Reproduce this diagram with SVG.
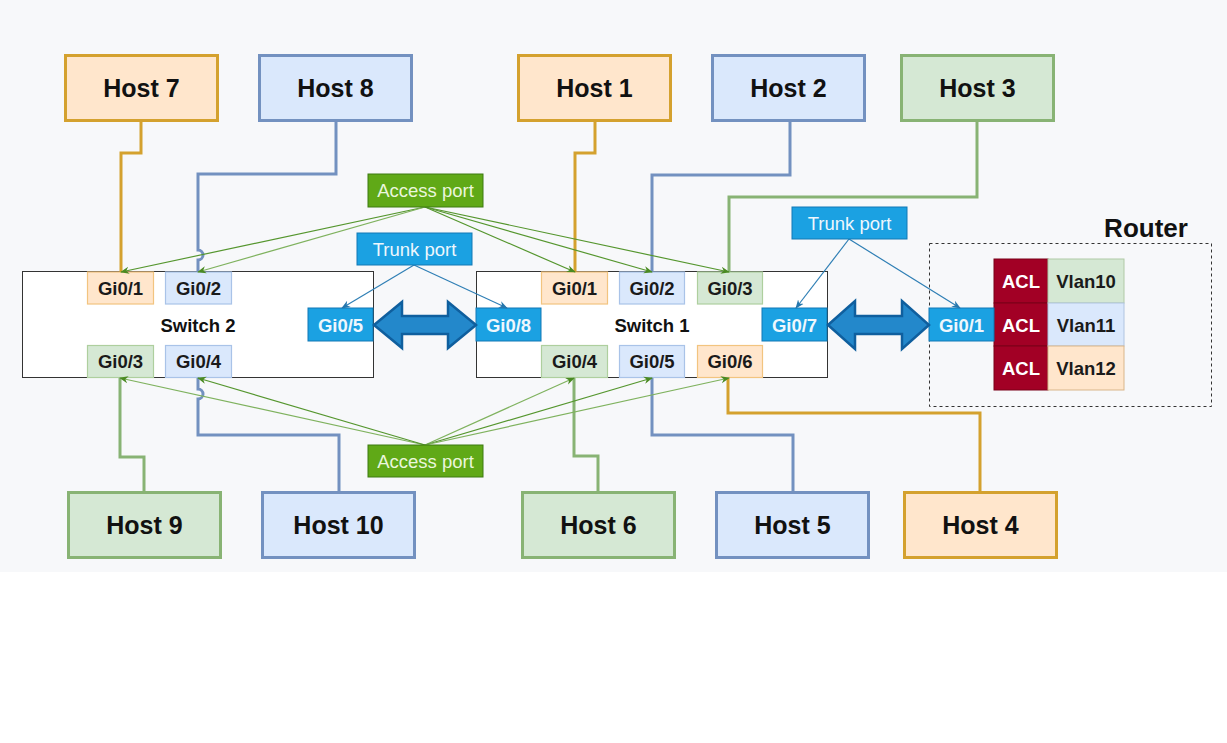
<svg xmlns="http://www.w3.org/2000/svg" width="1227" height="743" viewBox="0 0 1227 743">
  <style>
    text { font-family: "Liberation Sans", Arial, sans-serif; text-anchor: middle; dominant-baseline: central; }
    .host-o { fill: #ffe6cc; stroke: #d4a12e; stroke-width: 3; }
    .host-b { fill: #dae8fc; stroke: #7391c0; stroke-width: 3; }
    .host-g { fill: #d5e8d4; stroke: #88b374; stroke-width: 3; }
    .host-t { font-size: 25px; font-weight: bold; fill: #111; }
    .sw { fill: #ffffff; stroke: #333333; stroke-width: 1; }
    .sw-t { font-size: 18.5px; font-weight: bold; fill: #111; }
    .p-o { fill: #ffe6cc; stroke: #f2c47f; stroke-width: 1.2; }
    .p-b { fill: #dae8fc; stroke: #a9c3e8; stroke-width: 1.2; }
    .p-g { fill: #d5e8d4; stroke: #aecf9e; stroke-width: 1.2; }
    .p-t { font-size: 18.5px; font-weight: bold; fill: #1a1a1a; }
    .trk { fill: #1ba1e2; stroke: #1279b5; stroke-width: 1; }
    .trk-t { font-size: 18.5px; font-weight: bold; fill: #eef7fd; }
    .lbl-t { font-size: 18.5px; fill: #eaf6dc; }
    .lbl-tt { font-size: 18.5px; fill: #eef7fd; }
    .acc { fill: #60a917; stroke: #3d7a10; stroke-width: 1; }
    .acl { fill: #a20025; stroke: #7a0018; stroke-width: 1; }
    .acl-t { font-size: 18.5px; font-weight: bold; fill: #ffffff; }
    .w-o { fill: none; stroke: #d4a12e; stroke-width: 3; }
    .w-b { fill: none; stroke: #7391c0; stroke-width: 3; }
    .w-g { fill: none; stroke: #88b374; stroke-width: 3; }
    .a-g { fill: none; stroke: #55962e; stroke-width: 1.2; marker-end: url(#ah-g); }
    .a-b { fill: none; stroke: #2f7fb5; stroke-width: 1.2; marker-end: url(#ah-b); }
    .dbl { fill: #2388cb; stroke: #0f5f9e; stroke-width: 2.5; stroke-linejoin: miter; }
  </style>
  <defs>
    <marker id="ah-g" viewBox="0 0 10 10" refX="9" refY="5" markerWidth="9" markerHeight="9" markerUnits="userSpaceOnUse" orient="auto">
      <path d="M0,1 L10,5 L0,9 L3,5 Z" fill="#4a8a22"/>
    </marker>
    <marker id="ah-b" viewBox="0 0 10 10" refX="9" refY="5" markerWidth="9" markerHeight="9" markerUnits="userSpaceOnUse" orient="auto">
      <path d="M0,1 L10,5 L0,9 L3,5 Z" fill="#2677ad"/>
    </marker>
  </defs>

  <!-- canvas -->
  <rect x="0" y="0" width="1227" height="743" fill="#ffffff"/>
  <rect x="0" y="0" width="1227" height="572" fill="#f7f8fa"/>

  <!-- router frame -->
  <g id="router">
    <rect x="929.5" y="243.5" width="282" height="163" fill="none" stroke="#333" stroke-width="1" stroke-dasharray="3,3"/>
    <text x="1146" y="228" style="font-size:26px;font-weight:bold;fill:#111">Router</text>
    <rect class="acl" x="994" y="259" width="54" height="44"/>
    <rect class="acl" x="994" y="303" width="54" height="43"/>
    <rect class="acl" x="994" y="346" width="54" height="44"/>
    <text class="acl-t" x="1021" y="281">ACL</text>
    <text class="acl-t" x="1021" y="325">ACL</text>
    <text class="acl-t" x="1021" y="368">ACL</text>
    <rect x="1048" y="259" width="76" height="44" fill="#d5e8d4" stroke="#b0c9a6" stroke-width="1"/>
    <rect x="1048" y="303" width="76" height="43" fill="#dae8fc" stroke="#b0c4e0" stroke-width="1"/>
    <rect x="1048" y="346" width="76" height="44" fill="#ffe6cc" stroke="#d9b68a" stroke-width="1"/>
    <text class="p-t" x="1086" y="281">Vlan10</text>
    <text class="p-t" x="1086" y="325">Vlan11</text>
    <text class="p-t" x="1086" y="368">Vlan12</text>
    <rect class="trk" x="929" y="308" width="65" height="33"/>
    <text class="trk-t" x="961.5" y="325">Gi0/1</text>
  </g>

  <!-- switch 2 -->
  <g id="switch2">
    <rect class="sw" x="22.5" y="271.5" width="351" height="106"/>
    <text class="sw-t" x="198" y="325">Switch 2</text>
    <rect class="p-o" x="87.5" y="272" width="66" height="32"/>
    <text class="p-t" x="120.5" y="288">Gi0/1</text>
    <rect class="p-b" x="165.5" y="272" width="66" height="32"/>
    <text class="p-t" x="198.5" y="288">Gi0/2</text>
    <rect class="p-g" x="87.5" y="345.5" width="66" height="32"/>
    <text class="p-t" x="120.5" y="361.5">Gi0/3</text>
    <rect class="p-b" x="165.5" y="345.5" width="66" height="32"/>
    <text class="p-t" x="198.5" y="361.5">Gi0/4</text>
    <rect class="trk" x="308" y="308" width="65" height="33"/>
    <text class="trk-t" x="340.5" y="325">Gi0/5</text>
  </g>

  <!-- switch 1 -->
  <g id="switch1">
    <rect class="sw" x="476.5" y="271.5" width="351" height="106"/>
    <text class="sw-t" x="652" y="325">Switch 1</text>
    <rect class="p-o" x="541.5" y="272" width="66" height="32"/>
    <text class="p-t" x="574.5" y="288">Gi0/1</text>
    <rect class="p-b" x="619.5" y="272" width="65" height="32"/>
    <text class="p-t" x="652" y="288">Gi0/2</text>
    <rect class="p-g" x="697.5" y="272" width="65" height="32"/>
    <text class="p-t" x="730" y="288">Gi0/3</text>
    <rect class="p-g" x="541.5" y="345.5" width="66" height="32"/>
    <text class="p-t" x="574.5" y="361.5">Gi0/4</text>
    <rect class="p-b" x="619.5" y="345.5" width="65" height="32"/>
    <text class="p-t" x="652" y="361.5">Gi0/5</text>
    <rect class="p-o" x="697.5" y="345.5" width="65" height="32"/>
    <text class="p-t" x="730" y="361.5">Gi0/6</text>
    <rect class="trk" x="476" y="308" width="65" height="33"/>
    <text class="trk-t" x="508.5" y="325">Gi0/8</text>
    <rect class="trk" x="762" y="308" width="65" height="33"/>
    <text class="trk-t" x="794.5" y="325">Gi0/7</text>
  </g>

  <!-- host links and label pointers -->
  <g id="connectors">
    <!-- top hosts -->
    <path class="w-o" d="M141,121 V153 H121 V272"/>
    <path class="w-b" d="M336,121 V174 H198 V250 A5,5 0 0 1 198,260 V272"/>
    <path class="w-o" d="M595,121 V153 H575 V272"/>
    <path class="w-b" d="M790,121 V175 H652 V272"/>
    <path class="w-g" d="M977,121 V197 H729 V272"/>
    <!-- bottom hosts -->
    <path class="w-g" d="M144,492 V457 H120 V378"/>
    <path class="w-b" d="M339,492 V435 H198 V399 A5,5 0 0 0 198,389 V378"/>
    <path class="w-g" d="M598,492 V456 H574 V378"/>
    <path class="w-b" d="M793,492 V435 H652 V378"/>
    <path class="w-o" d="M980,492 V413 H728 V378"/>

    <!-- access port pointers, upper -->
    <path class="a-g" d="M425,207 L121,272"/>
    <path class="a-g" d="M425,207 L198,272" style="stroke:#7fb25e"/>
    <path class="a-g" d="M425,207 L575,272"/>
    <path class="a-g" d="M425,207 L652,272"/>
    <path class="a-g" d="M425,207 L729,272"/>
    <!-- access port pointers, lower -->
    <path class="a-g" d="M425,445 L120,378" style="stroke:#7fb25e"/>
    <path class="a-g" d="M425,445 L198,378"/>
    <path class="a-g" d="M425,445 L574,378" style="stroke:#7fb25e"/>
    <path class="a-g" d="M425,445 L652,378"/>
    <path class="a-g" d="M425,445 L729,378" style="stroke:#7fb25e"/>

    <!-- trunk port pointers -->
    <path class="a-b" d="M414,265 L342,308"/>
    <path class="a-b" d="M414,265 L507,308"/>
    <path class="a-b" d="M849,239 L796,308"/>
    <path class="a-b" d="M849,239 L960,308"/>

    <!-- trunk links -->
    <path class="dbl" d="M374,325 L402,302 L402,316 L448,316 L448,302 L476,325 L448,348 L448,334 L402,334 L402,348 Z"/>
    <path class="dbl" d="M828,325 L855,301 L855,316 L902,316 L902,301 L929,325 L902,349 L902,334 L855,334 L855,349 Z"/>
  </g>

  <!-- port type labels -->
  <g id="access-top">
    <rect class="acc" x="368" y="174" width="115" height="33"/>
    <text class="lbl-t" x="425.5" y="190.5">Access port</text>
  </g>
  <g id="access-bottom">
    <rect class="acc" x="368" y="445" width="115" height="32"/>
    <text class="lbl-t" x="425.5" y="461">Access port</text>
  </g>
  <g id="trunk-mid">
    <rect class="trk" x="357" y="233" width="115" height="32"/>
    <text class="lbl-tt" x="414.5" y="249">Trunk port</text>
  </g>
  <g id="trunk-right">
    <rect class="trk" x="792" y="207" width="115" height="32"/>
    <text class="lbl-tt" x="849.5" y="223">Trunk port</text>
  </g>

  <!-- hosts -->
  <g id="host7"><rect class="host-o" x="65.5" y="55.5" width="152" height="65"/><text class="host-t" x="141.5" y="88">Host 7</text></g>
  <g id="host8"><rect class="host-b" x="259.5" y="55.5" width="152" height="65"/><text class="host-t" x="335.5" y="88">Host 8</text></g>
  <g id="host1"><rect class="host-o" x="518.5" y="55.5" width="152" height="65"/><text class="host-t" x="594.5" y="88">Host 1</text></g>
  <g id="host2"><rect class="host-b" x="712.5" y="55.5" width="152" height="65"/><text class="host-t" x="788.5" y="88">Host 2</text></g>
  <g id="host3"><rect class="host-g" x="901.5" y="55.5" width="152" height="65"/><text class="host-t" x="977.5" y="88">Host 3</text></g>
  <g id="host9"><rect class="host-g" x="68.5" y="492.5" width="152" height="65"/><text class="host-t" x="144.5" y="525">Host 9</text></g>
  <g id="host10"><rect class="host-b" x="262.5" y="492.5" width="152" height="65"/><text class="host-t" x="338.5" y="525">Host 10</text></g>
  <g id="host6"><rect class="host-g" x="522.5" y="492.5" width="152" height="65"/><text class="host-t" x="598.5" y="525">Host 6</text></g>
  <g id="host5"><rect class="host-b" x="716.5" y="492.5" width="152" height="65"/><text class="host-t" x="792.5" y="525">Host 5</text></g>
  <g id="host4"><rect class="host-o" x="904.5" y="492.5" width="152" height="65"/><text class="host-t" x="980.5" y="525">Host 4</text></g>
</svg>
